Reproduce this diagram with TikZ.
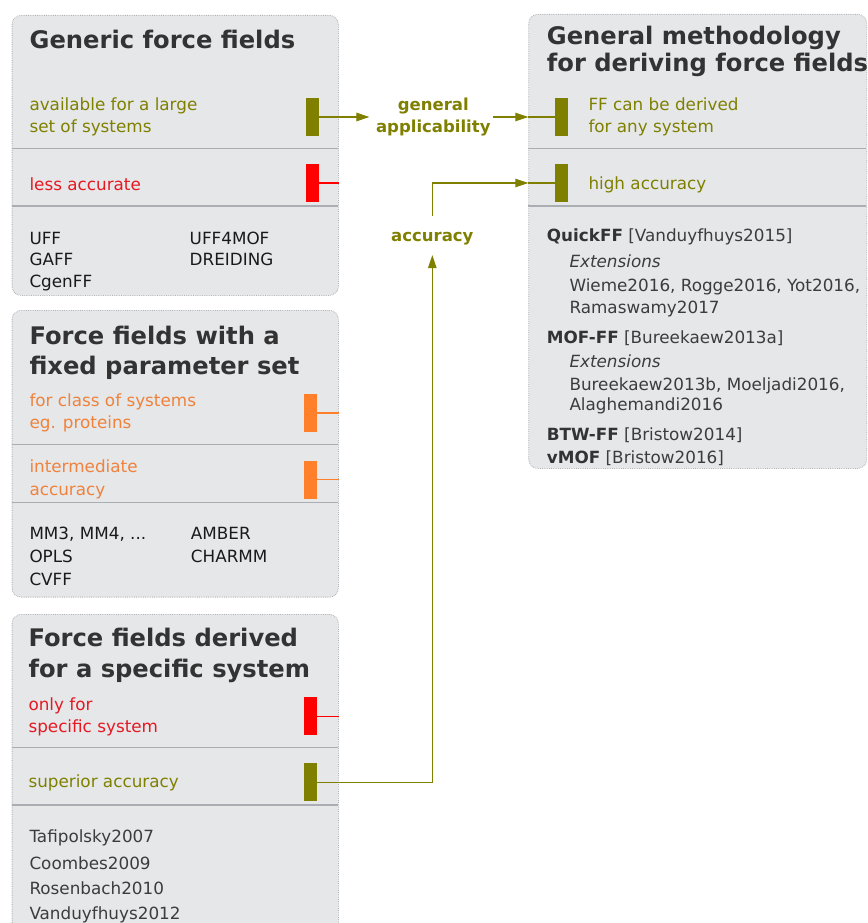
\documentclass[tikz,border=0pt]{standalone}
\usepackage{fontspec}
\setmainfont{DejaVu Sans}
\usetikzlibrary{arrows.meta}
\definecolor{boxgray}{RGB}{229,231,233}
\definecolor{bordergray}{RGB}{175,178,182}
\definecolor{divgray}{RGB}{170,173,177}
\definecolor{ffolive}{RGB}{128,128,0}
\definecolor{ffred}{RGB}{255,0,0}
\definecolor{ffredtxt}{RGB}{230,25,35}
\definecolor{fforange}{RGB}{255,127,42}
\definecolor{fforangetxt}{RGB}{240,130,60}
\definecolor{ttlgray}{RGB}{51,51,51}
\definecolor{bodytxt}{RGB}{26,26,26}
\definecolor{citetxt}{RGB}{60,60,60}
\begin{document}
\begin{tikzpicture}[x=1pt,y=-1pt,
 panel/.style={draw=bordergray, densely dotted, line width=0.8pt, fill=boxgray, rounded corners=9pt, anchor=north west, inner sep=0},
 divider/.style={draw=divgray, line width=1.4pt},
 ffbar/.style={rectangle, inner sep=0, minimum width=12.5pt, minimum height=38pt},
 ttl/.style={anchor=base west, inner sep=0, text=ttlgray, font=\bfseries\fontsize{24.2}{29}\selectfont},
 txt/.style={anchor=base west, inner sep=0, font=\fontsize{16.8}{20}\selectfont},
 lbl/.style={inner sep=0, text=ffolive, font=\bfseries\fontsize{16.5}{21.7}\selectfont, align=center},
 conn/.style={draw=ffolive, line width=1.1pt},
 tip/.style={-{Triangle[length=13pt,width=8.5pt]}},
 stub/.style={line width=1.1pt},
]
\useasboundingbox (0,0) rectangle (867,923);
% panels
\node[panel, minimum width=326.3pt, minimum height=280pt] (p1) at (11.7,15) {};
\node[panel, minimum width=326.3pt, minimum height=286.7pt] (p2) at (11.7,310) {};
\node[panel, minimum width=326.3pt, minimum height=330pt] (p3) at (11.7,614) {};
\node[panel, minimum width=338pt, minimum height=454pt] (p4) at (528.3,14) {};
% dividers
\draw[divider] (11.7,148.5) -- (338,148.5);
\draw[divider] (11.7,206) -- (338,206);
\draw[divider] (11.7,444.7) -- (338,444.7);
\draw[divider] (11.7,502.3) -- (338,502.3);
\draw[divider] (11.7,747.7) -- (338,747.7);
\draw[divider] (11.7,805) -- (338,805);
\draw[divider] (528.3,148.3) -- (866.3,148.3);
\draw[divider] (528.3,206) -- (866.3,206);
% panel 1
\node[ttl] (t1) at (29.5,48.3) {Generic force fields};
\node[txt,text=ffolive] (a1) at (29.3,111) {available for a large};
\node[txt,text=ffolive] (a2) at (29.3,132.7) {set of systems};
\node[ffbar,fill=ffolive] (b1) at (312.5,117) {};
\node[txt,text=ffredtxt] (a3) at (29.3,190) {less accurate};
\node[ffbar,fill=ffred] (b2) at (312.5,183) {};
\node[txt,text=bodytxt] (a4) at (29.3,244) {UFF};
\node[txt,text=bodytxt] (a5) at (29.3,265.7) {GAFF};
\node[txt,text=bodytxt] (a6) at (29.3,287) {CgenFF};
\node[txt,text=bodytxt] (a7) at (189.5,244) {UFF4MOF};
\node[txt,text=bodytxt] (a8) at (189.5,265.7) {DREIDING};
% panel 2
\node[ttl] (t2a) at (29.3,344.3) {Force fields with a};
\node[ttl] (t2b) at (29.3,374) {fixed parameter set};
\node[txt,text=fforangetxt] (c1) at (29.3,406) {for class of systems};
\node[txt,text=fforangetxt] (c2) at (29.3,428.7) {eg. proteins};
\node[ffbar,fill=fforange] (b3) at (310.3,413) {};
\node[txt,text=fforangetxt] (c3) at (29.3,472.3) {intermediate};
\node[txt,text=fforangetxt] (c4) at (29.3,495) {accuracy};
\node[ffbar,fill=fforange] (b4) at (310.3,479.5) {};
\node[txt,text=bodytxt] (c5) at (29.3,539) {MM3, MM4, ...};
\node[txt,text=bodytxt] (c6) at (29.3,562.7) {OPLS};
\node[txt,text=bodytxt] (c7) at (29.3,585.7) {CVFF};
\node[txt,text=bodytxt] (c8) at (190.7,539) {AMBER};
\node[txt,text=bodytxt] (c9) at (190.7,562.7) {CHARMM};
% panel 3
\node[ttl] (t3a) at (28.3,646.7) {Force fields derived};
\node[ttl] (t3b) at (28.3,677.3) {for a specific system};
\node[txt,text=ffredtxt] (d1) at (28.3,710) {only for};
\node[txt,text=ffredtxt] (d2) at (28.3,732.7) {specific system};
\node[ffbar,fill=ffred] (b7) at (310.3,716.3) {};
\node[txt,text=ffolive] (d3) at (28.3,787.3) {superior accuracy};
\node[ffbar,fill=ffolive] (b9) at (310.3,782.3) {};
\node[txt,text=citetxt] (d4) at (29.3,842.3) {Tafipolsky2007};
\node[txt,text=citetxt] (d5) at (29.3,869.3) {Coombes2009};
\node[txt,text=citetxt] (d6) at (29.3,894) {Rosenbach2010};
\node[txt,text=citetxt] (d7) at (29.3,919) {Vanduyfhuys2012};
% panel 4
\node[ttl] (t4a) at (546.7,45) {General methodology};
\node[ttl] (t4b) at (546.7,71.7) {for deriving force fields};
\node[ffbar,fill=ffolive] (b5) at (561.3,117) {};
\node[txt,text=ffolive] (e1) at (588.3,111) {FF can be derived};
\node[txt,text=ffolive] (e2) at (588.3,132.7) {for any system};
\node[ffbar,fill=ffolive] (b6) at (561.3,183) {};
\node[txt,text=ffolive] (e3) at (588.3,189.3) {high accuracy};
\node[txt,text=citetxt] (f1) at (546.7,241.7) {\textcolor{ttlgray}{\bfseries QuickFF} [Vanduyfhuys2015]};
\node[txt,text=citetxt] (f2) at (569.3,267.3) {\itshape Extensions};
\node[txt,text=citetxt] (f3) at (569.3,291.7) {Wieme2016, Rogge2016, Yot2016,};
\node[txt,text=citetxt] (f4) at (569.3,313.3) {Ramaswamy2017};
\node[txt,text=citetxt] (f5) at (546.7,343.3) {\textcolor{ttlgray}{\bfseries MOF-FF} [Bureekaew2013a]};
\node[txt,text=citetxt] (f6) at (569.3,367.3) {\itshape Extensions};
\node[txt,text=citetxt] (f7) at (569.3,390) {Bureekaew2013b, Moeljadi2016,};
\node[txt,text=citetxt] (f8) at (569.3,410.7) {Alaghemandi2016};
\node[txt,text=citetxt] (f9) at (546.7,440) {\textcolor{ttlgray}{\bfseries BTW-FF} [Bristow2014]};
\node[txt,text=citetxt] (f10) at (546.7,463.3) {\textcolor{ttlgray}{\bfseries vMOF} [Bristow2016]};
% labels
\node[lbl] (ga) at (433.3,116.7) {general\\applicability};
\node[lbl] (acc) at (432.3,238.5) {accuracy};
% connectors
\draw[conn,tip,shorten >=6.5pt] (b1.east) -- (ga.west |- b1.east);
\draw[conn,tip,shorten <=2.6pt] (ga.east |- b1.east) -- (p4.west |- b5.west);
\draw[conn] (p4.west |- b5.west) -- (b5.west);
\draw[conn,tip,shorten >=10pt] (b9.east) -| (acc.south);
\draw[conn,tip,shorten <=15.5pt] (acc.north) |- (p4.west |- b6.west);
\draw[conn] (p4.west |- b6.west) -- (b6.west);
\draw[stub,draw=ffred] (b2.east) -- (p1.east |- b2.east);
\draw[stub,draw=fforange] (b3.east) -- (p2.east |- b3.east);
\draw[stub,draw=fforange] (b4.east) -- (p2.east |- b4.east);
\draw[stub,draw=ffred] (b7.east) -- (p3.east |- b7.east);
\end{tikzpicture}
\end{document}
